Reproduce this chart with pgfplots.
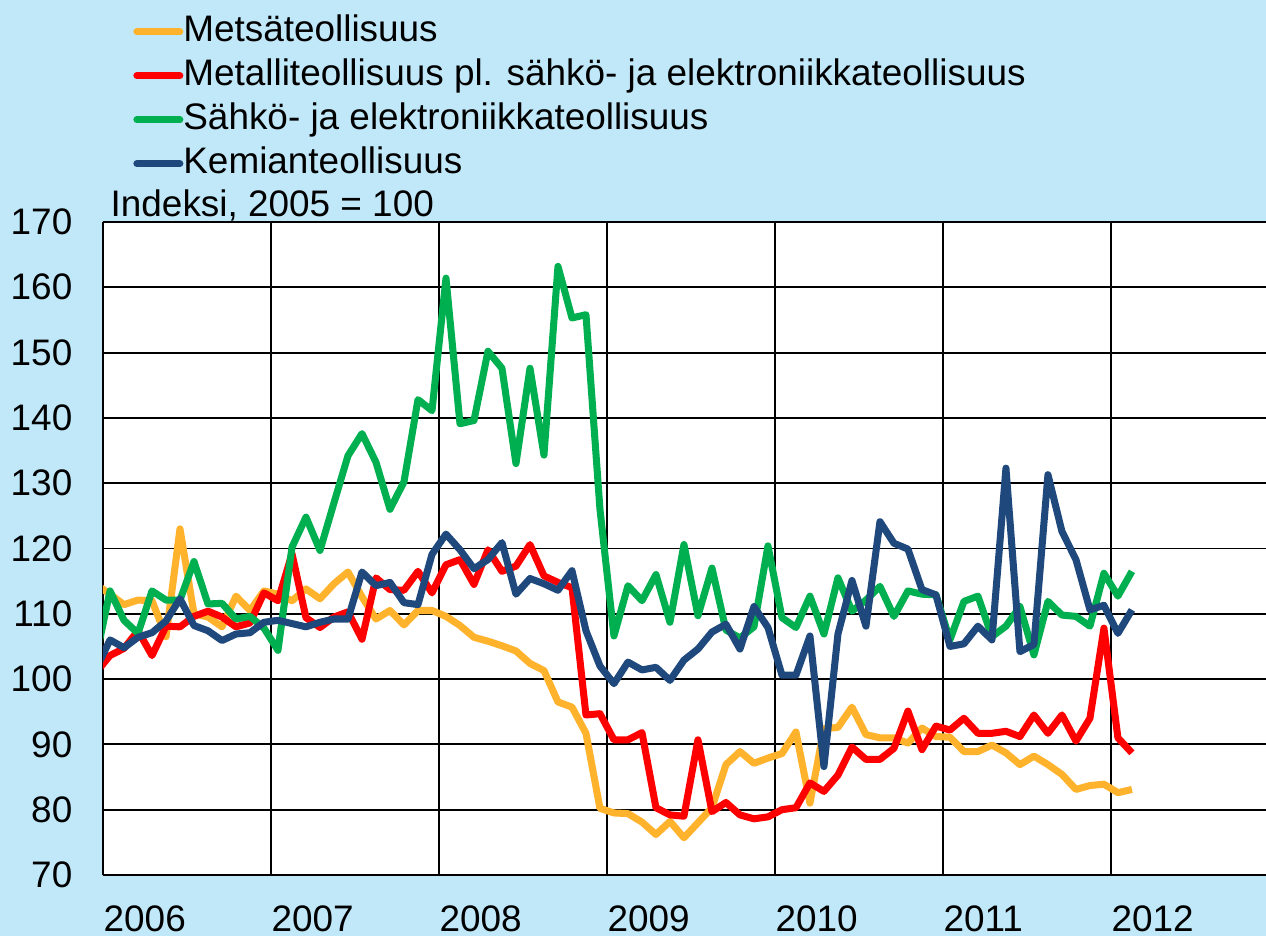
\documentclass[border=0pt]{standalone}
\usepackage{fontspec}
\setmainfont{Liberation Sans}
\usepackage{pgfplots}
\pgfplotsset{compat=1.18}
\usepackage{pgfplotstable}
\definecolor{bgblue}{RGB}{192,232,249}
\definecolor{cOrange}{RGB}{255,178,43}
\definecolor{cRed}{RGB}{255,0,0}
\definecolor{cGreen}{RGB}{0,176,80}
\definecolor{cBlue}{RGB}{31,73,125}

% i = month index (0 = Jan 2006)
\pgfplotstableread{
i met metal sahko kemia
-1 114.5 101.0 103.3 101.5
0 113.0 103.6 113.5 106.0
1 111.4 104.7 109.0 104.8
2 112.1 107.4 107.0 106.4
3 112.0 103.6 113.5 107.1
4 106.5 108.1 112.1 108.9
5 123.0 108.0 112.1 112.3
6 110.0 109.6 118.0 108.2
7 109.5 110.4 111.5 107.4
8 108.0 109.5 111.6 105.9
9 112.7 108.0 109.2 106.9
10 110.5 108.6 109.6 107.1
11 113.5 113.2 107.8 108.7
12 113.0 112.0 104.4 109.0
13 112.0 119.2 120.2 108.5
14 113.8 109.4 124.8 108.0
15 112.3 107.9 119.7 108.7
16 114.6 109.5 127.0 109.2
17 116.4 110.3 134.2 109.2
18 112.6 106.1 137.6 116.4
19 109.2 115.5 133.2 114.3
20 110.5 113.7 126.0 114.8
21 108.3 113.6 130.2 111.7
22 110.5 116.5 142.8 111.4
23 110.5 113.2 141.1 119.1
24 109.6 117.5 161.4 122.2
25 108.2 118.3 139.1 119.8
26 106.4 114.5 139.6 116.9
27 105.8 119.8 150.2 118.3
28 105.1 116.5 147.6 120.9
29 104.3 117.3 133.0 113.0
30 102.4 120.6 147.6 115.4
31 101.3 115.8 134.3 114.6
32 96.5 114.8 163.2 113.6
33 95.7 114.0 155.3 116.6
34 91.7 94.5 155.8 107.4
35 80.2 94.7 126.0 102.0
36 79.5 90.7 106.6 99.3
37 79.4 90.7 114.3 102.6
38 78.1 91.8 112.0 101.4
39 76.2 80.3 116.0 101.8
40 78.2 79.2 108.7 99.8
41 75.7 79.0 120.6 102.9
42 78.0 90.7 109.7 104.6
43 80.3 79.7 117.0 107.2
44 86.9 81.1 107.5 108.4
45 88.9 79.2 106.3 104.6
46 87.1 78.6 108.0 111.1
47 87.9 78.9 120.4 107.9
48 88.6 80.0 109.4 100.6
49 91.9 80.3 107.9 100.6
50 81.0 84.1 112.7 106.6
51 92.4 82.8 106.9 86.6
52 92.6 85.3 115.5 106.9
53 95.7 89.6 110.4 115.1
54 91.5 87.7 112.1 108.1
55 91.0 87.7 114.2 124.1
56 91.0 89.4 109.6 120.8
57 90.2 95.1 113.5 119.9
58 92.5 89.2 113.0 113.7
59 91.2 92.8 112.9 112.9
60 91.1 92.2 106.0 105.0
61 88.9 94.0 111.9 105.4
62 88.9 91.7 112.7 108.1
63 89.9 91.7 106.5 106.0
64 88.7 92.0 108.1 132.3
65 86.9 91.2 111.1 104.2
66 88.2 94.5 103.7 105.3
67 86.9 91.7 111.9 131.3
68 85.4 94.5 109.8 122.6
69 83.1 90.5 109.6 118.3
70 83.7 94.0 108.1 110.6
71 83.9 107.8 116.2 111.3
72 82.6 91.0 112.7 107.0
73 83.1 88.7 116.5 110.6
}\datatable

\newcommand{\cf}{\fontsize{10.5}{12.6}\selectfont}

\begin{document}
\begin{tikzpicture}[font=\cf]
\useasboundingbox (0,0) rectangle (12.66cm,9.36cm);
\fill[bgblue] (0,0) rectangle (12.66cm,9.36cm);
\begin{axis}[
  name=ax,
  at={(1.03cm,0.61cm)}, anchor=south west,
  scale only axis, width=11.63cm, height=6.53cm,
  xmin=2006, xmax=2012.923, ymin=70, ymax=170,
  xtick={2006,2007,2008,2009,2010,2011,2012},
  xticklabels={2006,2007,2008,2009,2010,2011,2012},
  ytick={70,80,90,100,110,120,130,140,150,160,170},
  /pgf/number format/assume math mode=true,
  /pgf/number format/1000 sep={},
  tick label style={font=\cf},
  xticklabel style={anchor=north west, inner sep=0pt, xshift=0mm, yshift=-3mm},
  yticklabel style={anchor=east, inner sep=0pt, xshift=-3.0mm},
  major tick length=0pt,
  grid=major,
  major grid style={black, line width=0.55pt},
  axis lines*=left,
  axis line style={black, line width=0.8pt, -},
  axis background/.style={fill=white},
  legend style={at={(0.0255,1.3185)}, anchor=north west, draw=none, fill=none,
    inner sep=0pt, row sep=1mm, column sep=0mm, font=\cf,
    nodes={inner ysep=0pt, inner xsep=0pt, text height=2.7mm, text depth=0.7mm}},
  legend cell align=left,
  legend image code/.code={\draw[#1, line width=2pt, line cap=round] (0.3mm,0mm) -- (4.6mm,0mm);},
  every axis plot/.append style={line width=2pt, line join=round, no markers},
]
\addplot[cOrange] table[x expr={2006+(\thisrow{i}+0.5)/12}, y=met] {\datatable};
\addlegendentry{Metsäteollisuus}
\addplot[cRed] table[x expr={2006+(\thisrow{i}+0.5)/12}, y=metal] {\datatable};
\addlegendentry{Metalliteollisuus pl. sähkö- ja elektroniikkateollisuus}
\addplot[cGreen] table[x expr={2006+(\thisrow{i}+0.5)/12}, y=sahko] {\datatable};
\addlegendentry{Sähkö- ja elektroniikkateollisuus}
\addplot[cBlue] table[x expr={2006+(\thisrow{i}+0.5)/12}, y=kemia] {\datatable};
\addlegendentry{Kemianteollisuus}
\end{axis}
\node[anchor=base west, inner sep=0pt, font=\cf] at ([xshift=0.7mm, yshift=0.55mm]ax.north west) {Indeksi, 2005 = 100};
\end{tikzpicture}
\end{document}
